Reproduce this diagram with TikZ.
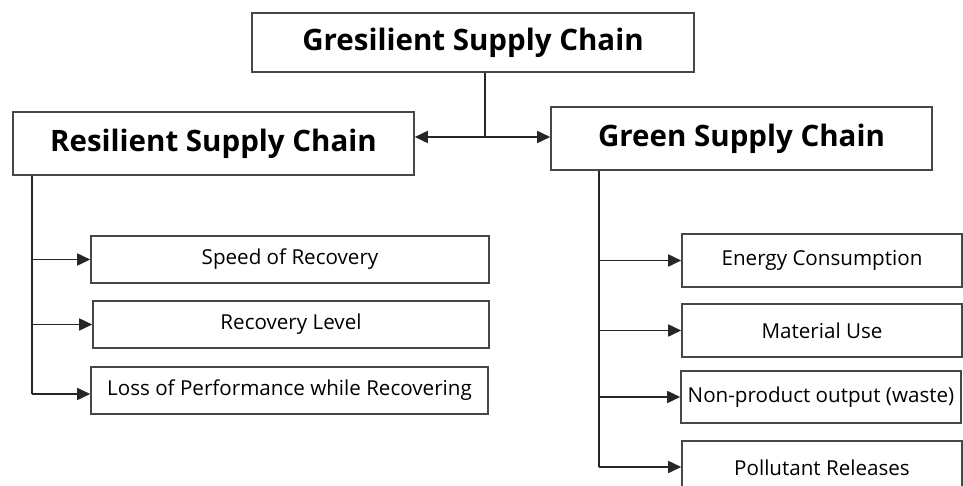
\documentclass[tikz,border=0pt]{standalone}
\usepackage{fontspec}
\setmainfont{Open Sans}
\usetikzlibrary{arrows.meta}
\begin{document}
\begin{tikzpicture}[x=1pt,y=-1pt,
  box/.style={draw=black!72, line width=1.6pt, rectangle, inner sep=0pt, text=black},
  title/.style={box, font=\fontsize{29.5}{32}\selectfont\bfseries},
  item/.style={box, font=\fontsize{20.6}{23}\selectfont},
  link/.style={draw=black!85, line width=1.7pt},
  arr/.style={link, -{Triangle[length=13pt,width=12pt]}},
  arrb/.style={link, {Triangle[length=13pt,width=12pt]}-{Triangle[length=13pt,width=12pt]}}]
\useasboundingbox (0,0) rectangle (963,486);
\clip (0,0) rectangle (963,486);
\node[title, minimum width=442pt, minimum height=59pt] (top) at (473,42.5) {Gresilient Supply Chain};
\node[title, minimum width=401pt, minimum height=63pt] (res) at (213.5,143.5) {Resilient Supply Chain};
\node[title, minimum width=381pt, minimum height=63pt] (green) at (741.5,138.5) {Green Supply Chain};
\node[item, minimum width=398pt, minimum height=47pt] (speed) at (290,259.5) {Speed of Recovery};
\node[item, minimum width=396pt, minimum height=47pt] (level) at (291,324.5) {Recovery Level};
\node[item, minimum width=397pt, minimum height=47pt] (loss) at (289.5,390.5) {Loss of Performance while Recovering};
\node[item, minimum width=280pt, minimum height=53pt] (energy) at (822,260.5) {Energy Consumption};
\node[item, minimum width=280pt, minimum height=53pt] (material) at (822,330.5) {Material Use};
\node[item, minimum width=280pt, minimum height=52pt] (waste) at (821,397) {Non-product output (waste)};
\node[item, minimum width=280pt, minimum height=53pt, yshift=-1pt] (poll) at (822,466.5) {Pollutant Releases};
\coordinate (j) at (485,137);
\coordinate (lt) at (32,394);
\coordinate (rt) at (599,467);
\draw[link] (j |- top.south) -- (j);
\draw[arrb] (j -| res.east) -- (j -| green.west);
\draw[link] (lt |- res.south) -- (lt);
\draw[arr] (lt |- speed.west) -- (speed.west);
\draw[arr] (lt |- level.west) -- (level.west);
\draw[arr] (lt) -- (lt -| loss.west);
\draw[link] (rt |- green.south) -- (rt);
\draw[arr] (rt |- energy.west) -- (energy.west);
\draw[arr] (rt |- material.west) -- (material.west);
\draw[arr] (rt |- waste.west) -- (waste.west);
\draw[arr] (rt) -- (rt -| poll.west);
\end{tikzpicture}
\end{document}
